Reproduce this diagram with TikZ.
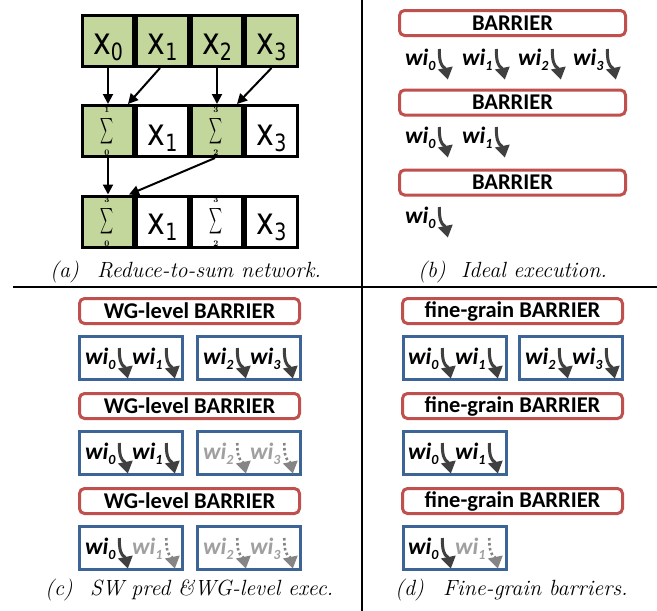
\documentclass[tikz,border=0pt]{standalone}
\usepackage{fontspec}
\usepackage{graphicx}
\usetikzlibrary{arrows.meta}
\newfontfamily\carlito{Carlito}
\newfontfamily\dejavu{DejaVu Sans}
\definecolor{barred}{HTML}{C0504D}
\definecolor{boxblue}{HTML}{3C6496}
\definecolor{cellgreen}{HTML}{C3D69B}
\definecolor{arrdark}{HTML}{404040}
\definecolor{fadegray}{HTML}{A0A0A0}
\definecolor{fadearr}{HTML}{858585}
\tikzset{
  cell/.style={draw=black, line width=3pt, minimum width=51.5pt, minimum height=51pt, inner sep=0pt},
  greencell/.style={cell, fill=cellgreen},
  whitecell/.style={cell, fill=white},
  xlab/.style={inner sep=0pt, anchor=base},
  limlab/.style={inner sep=0pt, font=\bfseries\fontsize{8.5}{8.5}\selectfont},
  netarrow/.style={line width=2pt, -{Triangle[length=10pt,width=10pt]}},
  barrier/.style={draw=barred, line width=3pt, rounded corners=5pt, fill=white, inner sep=0pt,
    minimum height=25pt, font=\carlito\bfseries\fontsize{22.5}{22.5}\selectfont},
  wgbox/.style={draw=boxblue, line width=3pt, minimum width=103pt, minimum height=43pt, inner sep=0pt},
  witext/.style={inner sep=0pt, font=\carlito\bfseries\itshape\fontsize{23.5}{23.5}\selectfont},
  wdarktext/.style={text=black},
  wfadetext/.style={text=fadegray},
  wdarkstem/.style={draw=arrdark, line width=3pt},
  wfadestem/.style={draw=fadearr, line width=2.6pt, dash pattern=on 2.5pt off 2.5pt},
  wdarkhead/.style={fill=arrdark},
  wfadehead/.style={fill=fadearr},
  captext/.style={inner sep=0pt, anchor=base west, font=\itshape\fontsize{22}{22}\selectfont},
  divider/.style={line width=2pt}
}
\newcommand{\xlabel}[1]{\scalebox{1}[1.25]{\dejavu\fontsize{30}{30}\selectfont x\raisebox{-5.5pt}{\fontsize{19}{19}\selectfont #1}}}
\newcommand{\sigmasym}{\resizebox*{13pt}{29pt}{$\displaystyle\sum$}}
\newcommand{\wiu}[5]{%
  \node[witext,#5text,anchor=base west] (#1) at (#2,#3) {wi\raisebox{-5pt}{\fontsize{14}{14}\selectfont #4}};
  \draw[#5stem] ([shift={(3.5pt,16pt)}]#1.base east) .. controls ([shift={(3.5pt,4pt)}]#1.base east) and ([shift={(5pt,-1pt)}]#1.base east) .. ([shift={(9.5pt,-3.5pt)}]#1.base east);
  \fill[#5head] ([shift={(2pt,-4.5pt)}]#1.base east) -- ([shift={(17pt,-1.5pt)}]#1.base east) -- ([shift={(12pt,-14.5pt)}]#1.base east) -- cycle;
}
\begin{document}
\begin{tikzpicture}[x=1pt,y=-1pt]
\useasboundingbox (0,0) rectangle (657,611);
\fill[white] (0,0) rectangle (657,611);

% ---------- panel (a)
\node[greencell] (a1) at (108,41) {};
\node[greencell] (a2) at (162.5,41) {};
\node[greencell] (a3) at (217,41) {};
\node[greencell] (a4) at (271.5,41) {};
\node[xlab] (a1t) at (108,54) {\xlabel{0}};
\node[xlab] (a2t) at (162.5,54) {\xlabel{1}};
\node[xlab] (a3t) at (217,54) {\xlabel{2}};
\node[xlab] (a4t) at (271.5,54) {\xlabel{3}};

\node[greencell] (b1) at (108,131) {};
\node[whitecell] (b2) at (162.5,131) {};
\node[greencell] (b3) at (217,131) {};
\node[whitecell] (b4) at (271.5,131) {};
\node[inner sep=0pt] (b1s) at (107,131) {\sigmasym};
\node[limlab] (b1u) at (107,109.5) {1};
\node[limlab] (b1l) at (107,153) {0};
\node[xlab] (b2t) at (162.5,145) {\xlabel{1}};
\node[inner sep=0pt] (b3s) at (216,131) {\sigmasym};
\node[limlab] (b3u) at (216,109.5) {3};
\node[limlab] (b3l) at (216,153) {2};
\node[xlab] (b4t) at (271.5,145) {\xlabel{3}};

\node[greencell] (c1) at (108,221.5) {};
\node[whitecell] (c2) at (162.5,221.5) {};
\node[whitecell] (c3) at (217,221.5) {};
\node[whitecell] (c4) at (271.5,221.5) {};
\node[inner sep=0pt] (c1s) at (107,221.5) {\sigmasym};
\node[limlab] (c1u) at (107,200) {3};
\node[limlab] (c1l) at (107,243.5) {0};
\node[xlab] (c2t) at (162.5,234) {\xlabel{1}};
\node[inner sep=0pt] (c3s) at (216,221.5) {\sigmasym};
\node[limlab] (c3u) at (216,200) {3};
\node[limlab] (c3l) at (216,243.5) {2};
\node[xlab] (c4t) at (271.5,234) {\xlabel{3}};

\draw[netarrow] (a1.south) -- (b1.north);
\draw[netarrow] ([xshift=-2.5pt]a2.south) -- ([xshift=20pt]b1.north);
\draw[netarrow] (a3.south) -- (b3.north);
\draw[netarrow] (a4.south) -- ([xshift=20pt]b3.north);
\draw[netarrow] (b1.south) -- (c1.north);
\draw[netarrow] ([xshift=-2pt]b3.south) -- ([xshift=21pt]c1.north);

\node[captext] (capa1) at (50,277) {(a)};
\node[captext] (capa2) at (97,277) {Reduce-to-sum network.};

% ---------- panel (b)
\node[barrier, minimum width=226pt] (bb1) at (512.5,23) {BARRIER};
\node[barrier, minimum width=226pt] (bb2) at (512.5,102.5) {BARRIER};
\node[barrier, minimum width=226pt] (bb3) at (512.5,182.5) {BARRIER};
\wiu{bw10}{405}{65}{0}{wdark}
\wiu{bw11}{462}{65}{1}{wdark}
\wiu{bw12}{518}{65}{2}{wdark}
\wiu{bw13}{573}{65}{3}{wdark}
\wiu{bw20}{405}{143}{0}{wdark}
\wiu{bw21}{462}{143}{1}{wdark}
\wiu{bw30}{405}{223}{0}{wdark}
\node[captext] (capb1) at (418,277) {(b)};
\node[captext] (capb2) at (461,277) {Ideal execution.};

% ---------- panel (c)
\node[barrier, minimum width=220pt] (cb1) at (189.5,311) {WG-level BARRIER};
\node[barrier, minimum width=220pt] (cb2) at (189.5,406) {WG-level BARRIER};
\node[barrier, minimum width=220pt] (cb3) at (189.5,501) {WG-level BARRIER};
\node[wgbox] (cg1a) at (131,358) {};
\node[wgbox] (cg1b) at (248.5,358) {};
\node[wgbox] (cg2a) at (131,453) {};
\node[wgbox] (cg2b) at (248.5,453) {};
\node[wgbox] (cg3a) at (131,548) {};
\node[wgbox] (cg3b) at (248.5,548) {};
\wiu{cw10}{85}{364}{0}{wdark}
\wiu{cw11}{132}{364}{1}{wdark}
\wiu{cw12}{203}{364}{2}{wdark}
\wiu{cw13}{250}{364}{3}{wdark}
\wiu{cw20}{85}{459}{0}{wdark}
\wiu{cw21}{132}{459}{1}{wdark}
\wiu{cw22}{203}{459}{2}{wfade}
\wiu{cw23}{250}{459}{3}{wfade}
\wiu{cw30}{85}{554}{0}{wdark}
\wiu{cw31}{132}{554}{1}{wfade}
\wiu{cw32}{203}{554}{2}{wfade}
\wiu{cw33}{250}{554}{3}{wfade}
\node[captext] (capc1) at (45,595) {(c)};
\node[captext] (capc2) at (90,595) {SW pred \&WG-level exec.};

% ---------- panel (d)
\node[barrier, minimum width=220pt] (db1) at (512.5,311) {fine-grain BARRIER};
\node[barrier, minimum width=220pt] (db2) at (512.5,406) {fine-grain BARRIER};
\node[barrier, minimum width=220pt] (db3) at (512.5,501) {fine-grain BARRIER};
\node[wgbox] (dg1a) at (454.5,358) {};
\node[wgbox] (dg1b) at (570.5,358) {};
\node[wgbox] (dg2a) at (454.5,453) {};
\node[wgbox] (dg3a) at (454.5,548) {};
\wiu{dw10}{408}{364}{0}{wdark}
\wiu{dw11}{455}{364}{1}{wdark}
\wiu{dw12}{525}{364}{2}{wdark}
\wiu{dw13}{572}{364}{3}{wdark}
\wiu{dw20}{408}{459}{0}{wdark}
\wiu{dw21}{455}{459}{1}{wdark}
\wiu{dw30}{408}{554}{0}{wdark}
\wiu{dw31}{455}{554}{1}{wfade}
\node[captext] (capd1) at (395,595) {(d)};
\node[captext] (capd2) at (443,595) {Fine-grain barriers.};

% ---------- dividers
\coordinate (hl) at (13,287);
\coordinate (hr) at (657,287);
\coordinate (vt) at (362,0);
\coordinate (vb) at (362,611);
\draw[divider] (hl) -- (hr);
\draw[divider] (vt) -- (vb);
\end{tikzpicture}
\end{document}
